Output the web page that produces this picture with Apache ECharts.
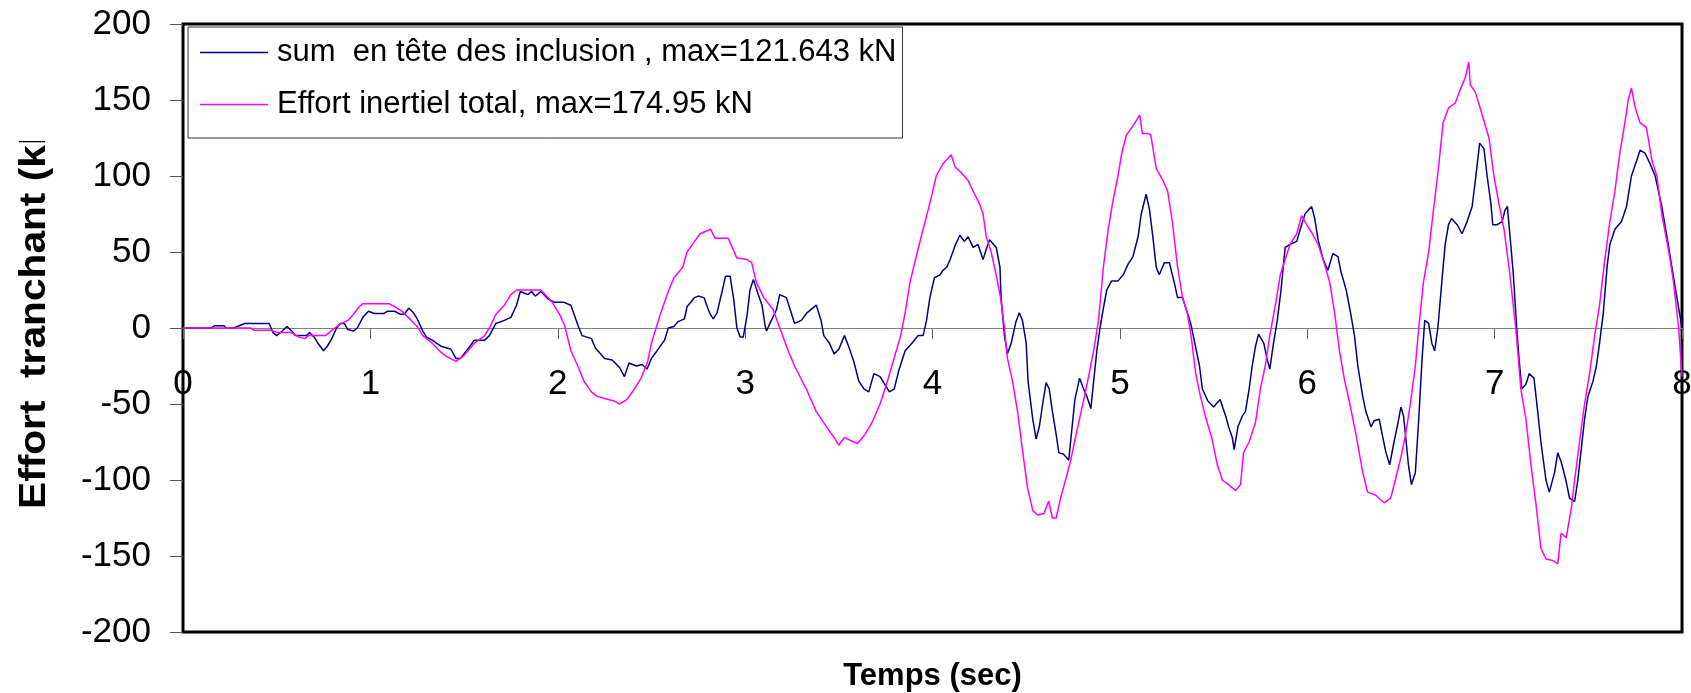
<!DOCTYPE html>
<html>
<head>
<meta charset="utf-8">
<script src="https://cdn.jsdelivr.net/npm/echarts@6/dist/echarts.min.js"></script>
<style>
  html, body { margin: 0; padding: 0; background: #fff; }
  #chart { width: 1691px; height: 693px; }
</style>
</head>
<body>
<div id="chart"></div>
<script>
// Shear force at the pile heads vs. total inertial force (kN) over time (s)
const sumLabel = 'sum  en tête des inclusion , max=121.643 kN';
const inertLabel = 'Effort inertiel total, max=174.95 kN';

const sumT = [0,0.15,0.17,0.22,0.23,0.27,0.29,0.33,0.46,0.48,0.50,0.53,0.555,0.58,0.60,0.66,0.675,0.70,0.72,0.75,0.77,0.79,0.82,0.84,0.86,0.88,0.91,0.93,0.96,0.99,1.02,1.07,1.09,1.13,1.16,1.18,1.205,1.23,1.25,1.28,1.30,1.33,1.377,1.43,1.457,1.48,1.52,1.555,1.61,1.635,1.67,1.715,1.75,1.78,1.80,1.84,1.86,1.88,1.91,1.95,1.98,2.03,2.07,2.09,2.11,2.13,2.18,2.20,2.25,2.29,2.33,2.356,2.38,2.42,2.45,2.477,2.50,2.53,2.57,2.59,2.62,2.64,2.676,2.69,2.73,2.75,2.78,2.81,2.83,2.85,2.877,2.895,2.92,2.94,2.956,2.974,2.99,3.01,3.026,3.044,3.07,3.09,3.106,3.114,3.14,3.167,3.185,3.22,3.246,3.264,3.30,3.33,3.38,3.405,3.42,3.45,3.475,3.50,3.53,3.555,3.58,3.607,3.634,3.66,3.687,3.72,3.75,3.77,3.796,3.82,3.854,3.89,3.924,3.95,3.968,3.986,4.01,4.04,4.056,4.076,4.094,4.12,4.146,4.17,4.19,4.217,4.243,4.27,4.287,4.305,4.34,4.36,4.366,4.384,4.40,4.42,4.445,4.463,4.48,4.50,4.51,4.535,4.553,4.57,4.588,4.606,4.623,4.64,4.66,4.674,4.70,4.727,4.745,4.76,4.785,4.806,4.824,4.845,4.86,4.877,4.894,4.912,4.93,4.956,4.99,5.018,5.044,5.07,5.097,5.114,5.14,5.158,5.176,5.194,5.21,5.238,5.264,5.29,5.308,5.334,5.36,5.378,5.40,5.425,5.44,5.47,5.50,5.535,5.565,5.58,5.60,5.61,5.63,5.653,5.67,5.69,5.706,5.724,5.74,5.768,5.785,5.80,5.82,5.84,5.86,5.882,5.908,5.944,5.97,5.988,6.023,6.04,6.058,6.085,6.11,6.137,6.164,6.18,6.208,6.234,6.252,6.27,6.296,6.313,6.34,6.357,6.384,6.40,6.42,6.44,6.463,6.48,6.50,6.514,6.528,6.54,6.556,6.577,6.595,6.613,6.627,6.648,6.665,6.68,6.697,6.718,6.736,6.754,6.77,6.80,6.826,6.853,6.88,6.898,6.92,6.943,6.96,6.98,6.99,7.014,7.04,7.054,7.068,7.086,7.10,7.118,7.13,7.145,7.167,7.185,7.21,7.23,7.247,7.274,7.292,7.32,7.337,7.355,7.38,7.40,7.427,7.444,7.462,7.48,7.498,7.525,7.543,7.56,7.58,7.60,7.615,7.642,7.677,7.704,7.73,7.758,7.776,7.803,7.83,7.857,7.892,7.92,7.946,7.973,8.0];
const sumV = [0,0,1.5,1.5,0,0,1,3,3,-3,-5,-2,1,-2,-5,-5,-3,-6,-10,-15,-12,-8,0,3,3,-1,-2,0,7,11,9.5,9.5,11,11,9,9,13,10,6,-2,-6,-8,-12,-14,-20,-20,-14,-8,-8,-5,3,5,7,15,24,22,24,21,24,19,17,17,15,8,1,-5,-7,-13,-20,-21,-26,-32,-23,-25,-24,-27,-20,-15,-8,0,1,4,6,14,20,21,20,10,6,10,24,34,34,18,0,-6,-6,8,25,32,22,15,2,-2,5,12,22,20,10,3,5,10,15,5,-5,-10,-17,-14,-5,-13,-22,-35,-40,-42,-30,-32,-38,-42,-40,-28,-15,-10,-5,-5,5,20,33,35,38,40,45,54,61,57,60,53,55,45,52,58,53,40,20,-5,-17,-10,4,10,5,-10,-35,-60,-73,-65,-50,-36,-40,-55,-70,-82,-83,-87,-65,-47,-33,-40,-45,-53,-35,-15,0,13,25,31,31,35,42,47,60,75,88,78,60,40,35,43,43,30,20,20,10,3,-10,-25,-40,-48,-52,-47,-58,-65,-72,-80,-65,-58,-55,-40,-25,-12,-4,-10,-20,-27,-10,5,25,53,55,57,68,75,80,72,58,45,38,49,47,37,25,8,-5,-25,-45,-55,-65,-61,-60,-70,-82,-90,-75,-65,-52,-58,-75,-90,-103,-95,-60,-20,5,3,-10,-15,0,30,55,68,72,68,62,70,80,98,121.643,118,100,82,68,68,70,77,80,55,35,0,-20,-40,-37,-30,-33,-55,-75,-100,-108,-95,-82,-88,-100,-112,-114,-100,-80,-60,-45,-35,-25,-10,10,40,55,65,70,80,100,110,117,115,108,100,80,60,40,20,0];

const inertT = [0,0.36,0.38,0.47,0.50,0.58,0.62,0.65,0.67,0.76,0.78,0.81,0.845,0.88,0.91,0.94,0.96,1.10,1.13,1.17,1.21,1.25,1.28,1.33,1.377,1.41,1.457,1.50,1.555,1.61,1.635,1.67,1.715,1.75,1.78,1.91,1.94,1.97,2.01,2.036,2.07,2.107,2.14,2.18,2.21,2.27,2.30,2.33,2.37,2.41,2.445,2.48,2.50,2.525,2.55,2.59,2.62,2.667,2.69,2.73,2.76,2.815,2.84,2.91,2.956,3.01,3.035,3.06,3.10,3.15,3.185,3.23,3.264,3.326,3.38,3.44,3.475,3.50,3.53,3.563,3.60,3.64,3.678,3.72,3.757,3.79,3.83,3.854,3.88,3.915,3.95,3.986,4.02,4.056,4.10,4.12,4.155,4.19,4.225,4.25,4.27,4.287,4.313,4.34,4.363,4.384,4.40,4.427,4.454,4.48,4.507,4.535,4.56,4.595,4.62,4.64,4.66,4.683,4.71,4.736,4.77,4.806,4.833,4.86,4.886,4.912,4.938,4.965,4.99,5.01,5.035,5.07,5.106,5.12,5.15,5.165,5.194,5.23,5.255,5.28,5.308,5.335,5.36,5.38,5.405,5.43,5.456,5.49,5.52,5.547,5.58,5.618,5.644,5.66,5.69,5.724,5.75,5.776,5.80,5.83,5.856,5.882,5.908,5.944,5.97,5.997,6.023,6.058,6.085,6.12,6.146,6.172,6.20,6.224,6.26,6.296,6.322,6.366,6.41,6.445,6.47,6.50,6.525,6.55,6.577,6.595,6.62,6.648,6.674,6.70,6.725,6.755,6.79,6.817,6.844,6.862,6.87,6.898,6.934,6.97,6.996,7.023,7.05,7.077,7.095,7.113,7.14,7.167,7.194,7.22,7.247,7.274,7.31,7.337,7.355,7.382,7.41,7.427,7.453,7.48,7.507,7.534,7.56,7.588,7.615,7.642,7.668,7.695,7.713,7.73,7.75,7.776,7.81,7.84,7.866,7.892,7.93,7.955,7.982,8.0];
const inertV = [0,0,-1.5,-1.5,-3,-3,-6,-7,-5,-5,-3,0,3,5,9,14,16,16,14,11,6,1,-5,-10,-16,-19,-22,-18,-10,-5,0,9,15,22,25,25,21,17,9,2,-15,-25,-35,-42,-45,-47,-48,-50,-47,-40,-33,-22,-10,0,10,24,33,40,50,57,62,65,59,59,46,45,43,30,20,12,0,-15,-25,-40,-55,-66,-72,-77,-72,-74,-76,-70,-62,-50,-36,-22,-5,10,30,48,65,82,100,108,114,106,102,97,88,82,75,60,50,35,20,0,-20,-35,-55,-80,-105,-120,-123,-122,-114,-125,-125,-112,-100,-88,-68,-48,-32,-15,5,40,65,85,100,115,127,133,140,128,128,127,105,97,90,70,40,20,10,-5,-30,-45,-58,-72,-90,-100,-103,-107,-103,-82,-75,-62,-40,-25,-5,15,35,45,55,62,74,68,63,55,45,30,10,-15,-35,-48,-70,-95,-108,-110,-115,-112,-100,-85,-70,-50,-25,0,30,50,78,105,135,145,148,157,165,174.95,160,155,140,125,100,82,65,40,20,0,-40,-60,-90,-115,-145,-152,-153,-155,-135,-138,-118,-100,-75,-50,-30,-5,15,45,70,90,115,135,150,158,145,135,132,110,100,75,50,30,0,-32];

const timeTicks = [0, 1, 2, 3, 4, 5, 6, 7, 8];
const forceTicks = [-200, -150, -100, -50, 0, 50, 100, 150, 200];

const zip = (t, v) => t.map((x, i) => [x, v[i]]);
const FONT = '"Liberation Sans", Arial, Helvetica, sans-serif';

const chart = echarts.init(document.getElementById('chart'), null, { renderer: 'canvas' });

chart.setOption({
  animation: false,
  backgroundColor: '#ffffff',
  textStyle: { fontFamily: FONT },
  grid: {
    left: 183, top: 24, right: 9, bottom: 61,
    containLabel: false,
    outerBoundsMode: 'none',
    show: true, borderColor: '#000', borderWidth: 3, backgroundColor: 'transparent'
  },
  legend: {
    orient: 'vertical',
    left: 188, top: 27,
    padding: [10, 6, 18, 12],
    icon: 'rect',
    itemWidth: 68, itemHeight: 1.5, itemGap: 21,
    borderColor: '#333', borderWidth: 1, backgroundColor: '#fff',
    textStyle: { fontSize: 31, lineHeight: 30, color: '#000', fontFamily: FONT, padding: [0, 0, 0, 4] },
    data: [sumLabel, inertLabel]
  },
  xAxis: {
    type: 'value',
    min: timeTicks[0], max: timeTicks[timeTicks.length - 1], interval: 1,
    axisLine: { onZero: true, lineStyle: { color: '#808080', width: 1 } },
    axisTick: { length: 11, lineStyle: { color: '#606060', width: 1 } },
    // tick labels sit just under the zero line
    axisLabel: { fontSize: 35, color: '#000', margin: -265, fontFamily: FONT, showMinLabel: true, showMaxLabel: true },
    splitLine: { show: false },
    name: 'Temps (sec)', nameLocation: 'middle', nameGap: 29, nameMoveOverlap: false,
    nameTextStyle: { fontSize: 31, fontWeight: 'bold', color: '#000', fontFamily: FONT }
  },
  yAxis: {
    type: 'value',
    min: forceTicks[0], max: forceTicks[forceTicks.length - 1], interval: 50,
    axisLine: { show: false },
    axisTick: { show: true, length: 13, lineStyle: { color: '#555', width: 1 } },
    axisLabel: { fontSize: 35, color: '#000', margin: 32, fontFamily: FONT },
    splitLine: { show: false }
  },
  graphic: [
    {
      type: 'text',
      x: 35, y: 509,
      rotation: Math.PI / 2,
      scaleX: 1.13,
      style: {
        text: 'Effort  tranchant (kN)',
        font: 'bold 36px ' + FONT,
        fill: '#000',
        textAlign: 'left',
        textVerticalAlign: 'middle'
      },
      z: 10
    },
    {
      type: 'rect',
      shape: { x: 0, y: 0, width: 70, height: 141 },
      style: { fill: '#fff' },
      z: 11
    }
  ],
  series: [
    {
      name: sumLabel,
      type: 'line',
      data: zip(sumT, sumV),
      symbol: 'none',
      lineStyle: { color: '#000080', width: 1.5 },
      itemStyle: { color: '#000080' }
    },
    {
      name: inertLabel,
      type: 'line',
      data: zip(inertT, inertV),
      symbol: 'none',
      lineStyle: { color: '#ff00ff', width: 1.5 },
      itemStyle: { color: '#ff00ff' }
    }
  ]
});
</script>
</body>
</html>
